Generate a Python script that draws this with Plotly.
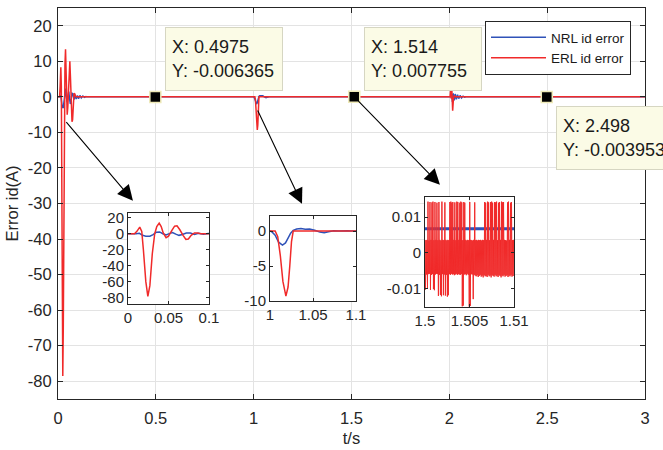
import numpy as np
import plotly.graph_objects as go

# ---------------- data ----------------
# ERL id error: start-up transient (t = 0 .. 0.1 s)
erl_t_start = [0, 0.008, 0.011, 0.0145, 0.017, 0.019, 0.022, 0.0245, 0.027, 0.030,
               0.033, 0.0355, 0.0385, 0.041, 0.0435, 0.047, 0.050, 0.054, 0.0575,
               0.0605, 0.064, 0.068, 0.0715, 0.0745, 0.078, 0.082, 0.086, 0.090, 0.095]
erl_v_start = [0, 0, 3, 8.3, 3, -20, -60, -78.5, -65, -25,
               0, 9, 13.4, 9, 1, -5, -3, 4, 9.5,
               10, 5, -2, -7, -6.5, -2, 1, 0.8, 0.1, 0]

# ERL id error: load step at t = 1 s
erl_t_step1 = [1.0, 1.006, 1.009, 1.012, 1.015, 1.0185, 1.021, 1.023, 1.025, 1.027]
erl_v_step1 = [0, 0, -0.8, -3.5, -7.2, -9.3, -8.0, -5.0, -1.5, 0]

# ERL id error: steady-state chattering, 1.5 .. 1.51 s (units of 1e-3 A),
# alternating upper / lower samples
erl_chatter_hi = [3.6, 3.5, 3.6, 14.3, 3.4, 14.2, 3.6, 14.1, 14.3, 3.5,
                  14.2, 3.6, 14.0, 3.5, 14.2, 3.6, 3.4, 14.3, 3.6, 3.5,
                  14.1, 3.6, 3.4, 3.6, 3.5, 14.2, 14.3, 14.0, 14.2, 3.6,
                  14.1, 3.5, 14.3, 14.2, 3.6, 14.0, 14.3, 14.1, 3.5, 14.2,
                  14.0, 3.6, 3.4, 3.6, 3.5, 14.2, 3.6, 3.5, 3.4, 3.6,
                  14.1, 3.5, 3.6, 3.4, 3.6, 3.5, 3.6, 3.4, 3.6, 3.5,
                  14.2, 14.0, 3.6, 14.3, 14.1, 3.5, 14.2, 14.3, 14.0, 3.6,
                  14.2, 14.1, 14.3, 3.5, 14.0, 14.2, 3.6, 14.3, 14.1, 14.2,
                  3.6, 3.5, 3.4, 14.1, 14.3, 3.6, 14.0, 14.2, 3.5, 3.6]
erl_chatter_lo = [-10.3, -6.1, -10.1, -6.0, -5.9, -10.4, -6.2, -6.0, -10.2, -10.5,
                  -6.1, -5.9, -6.0, -12.1, -6.2, -11.8, -12.2, -6.0, -11.9, -6.1,
                  -12.0, -6.2, -12.3, -11.9, -6.0, -6.2, -5.9, -6.1, -6.0, -6.3,
                  -6.1, -5.9, -6.2, -6.0, -6.1, -6.2, -6.0, -15.0, -14.8, -6.1,
                  -6.0, -6.3, -5.9, -6.2, -15.1, -14.9, -6.0, -6.1, -13.0, -6.2,
                  -6.4, -6.6, -6.3, -6.8, -6.5, -6.2, -6.7, -6.4, -6.9, -6.3,
                  -6.6, -6.5, -6.8, -6.2, -6.6, -6.4, -6.9, -6.3, -6.5, -6.7,
                  -6.2, -6.6, -6.4, -6.8, -6.3, -6.5, -6.9, -6.4, -6.6, -6.2,
                  -6.7, -6.5, -6.3, -6.8, -6.4, -6.6, -6.2, -6.7, -6.5, -6.4]
chatter_t_from, chatter_t_to = 1.5, 1.51

# ERL id error: load step at t = 2 s
erl_t_step2 = [2.0, 2.004, 2.007, 2.010, 2.013, 2.017, 2.021, 2.025, 2.030]
erl_v_step2 = [0, 0, 2.5, -0.5, 1.8, -3.9, -0.5, 0.4, 0]

# NRL id error
nrl_t_start = [0, 0.01, 0.014, 0.018, 0.022, 0.027, 0.031, 0.035, 0.039, 0.043,
               0.047, 0.051, 0.055, 0.059, 0.063, 0.067, 0.072, 0.077, 0.082,
               0.087, 0.093, 0.099, 0.105, 0.112, 0.119, 0.127, 0.135, 0.143, 0.15]
nrl_v_start = [0, 0, 0.5, -2, -3, -3, -1, 2, 2.3, 0,
               -1.5, 0.2, 1.5, -0.5, -2, -1, 1, 0.8, -0.8,
               0.5, -0.6, 0.4, -0.5, 0.4, -0.3, 0.25, -0.15, 0.1, 0]
nrl_t_step1 = [1.0, 1.002, 1.006, 1.010, 1.0145, 1.018, 1.021, 1.024, 1.027, 1.031,
               1.036, 1.041, 1.046, 1.052, 1.058, 1.063, 1.068, 1.074, 1.080, 1.090, 1.095]
nrl_v_step1 = [0, -0.1, -0.6, -1.6, -2.0, -1.7, -1.0, -0.3, 0.1, 0.3,
               0.35, 0.25, 0.3, 0.1, -0.15, -0.25, -0.1, 0.05, 0, 0.05, 0]
nrl_t_steady = [1.5, 1.51]
nrl_v_steady = [0.0067, 0.0067]
nrl_t_step2 = [2.0, 2.008, 2.012, 2.016, 2.020, 2.025, 2.030, 2.036, 2.042, 2.048,
               2.055, 2.062, 2.070, 2.078, 2.085]
nrl_v_step2 = [0, 0, 0.8, -1.4, 1.0, -1.0, 0.8, -0.7, 0.6, -0.5,
               0.4, -0.3, 0.2, -0.1, 0]

# data tips (t, id error)
tip_t = [0.4975, 1.514, 2.498]
tip_y = [-0.006365, 0.007755, -0.003953]

# axis ticks
main_xticks = [0, 0.5, 1, 1.5, 2, 2.5, 3]
main_xlabels = ["0", "0.5", "1", "1.5", "2", "2.5", "3"]
main_yticks = [-80, -70, -60, -50, -40, -30, -20, -10, 0, 10, 20]
main_ylabels = ["-80", "-70", "-60", "-50", "-40", "-30", "-20", "-10", "0", "10", "20"]
in1_xticks, in1_xlabels = [0, 0.05, 0.1], ["0", "0.05", "0.1"]
in1_yticks = [-80, -60, -40, -20, 0, 20]
in1_ylabels = ["-80", "-60", "-40", "-20", "0", "20"]
in2_xticks, in2_xlabels = [1, 1.05, 1.1], ["1", "1.05", "1.1"]
in2_yticks, in2_ylabels = [-10, -5, 0], ["-10", "-5", "0"]
in3_xticks, in3_xlabels = [1.5, 1.505, 1.51], ["1.5", "1.505", "1.51"]
in3_yticks, in3_ylabels = [-0.01, 0, 0.01], ["-0.01", "0", "0.01"]

# ---------------- assemble series ----------------
chatter_v = []
for hi, lo in zip(erl_chatter_hi, erl_chatter_lo):
    chatter_v += [hi * 1e-3, lo * 1e-3]
chatter_t = list(np.linspace(chatter_t_from, chatter_t_to, len(chatter_v)))

erl_t = (erl_t_start + [tip_t[0]] + erl_t_step1 + chatter_t + [tip_t[1]]
         + erl_t_step2 + [tip_t[2], 3.0])
erl_v = (erl_v_start + [tip_y[0]] + erl_v_step1 + chatter_v + [tip_y[1]]
         + erl_v_step2 + [tip_y[2], 0.0])
nrl_t = nrl_t_start + nrl_t_step1 + nrl_t_steady + nrl_t_step2 + [3.0]
nrl_v = nrl_v_start + nrl_v_step1 + nrl_v_steady + nrl_v_step2 + [0.0]

BLUE = "#2f52b8"
RED = "#f02a2a"
AX = "#262626"
GRID = "#e3e3e3"
FONT = "Liberation Sans, Arial, sans-serif"

fig = go.Figure()

# main axes
fig.add_trace(go.Scatter(x=nrl_t, y=nrl_v, mode="lines", name="NRL id error",
                         line=dict(color=BLUE, width=1.5), xaxis="x", yaxis="y"))
fig.add_trace(go.Scatter(x=erl_t, y=erl_v, mode="lines", name="ERL id error",
                         line=dict(color=RED, width=1.5), xaxis="x", yaxis="y"))
fig.add_trace(go.Scatter(x=tip_t, y=tip_y, mode="markers", showlegend=False,
                         marker=dict(symbol="square", size=11, color="black",
                                     line=dict(color="#efeab8", width=1.5)),
                         xaxis="x", yaxis="y"))

# zoomed views
for k, w_blue in ((2, 1.5), (3, 1.5), (4, 3)):
    fig.add_trace(go.Scatter(x=nrl_t, y=nrl_v, mode="lines", showlegend=False,
                             line=dict(color=BLUE, width=w_blue, simplify=False),
                             xaxis=f"x{k}", yaxis=f"y{k}"))
    fig.add_trace(go.Scatter(x=erl_t, y=erl_v, mode="lines", showlegend=False,
                             line=dict(color=RED, width=1.5 if k < 4 else 1, simplify=False),
                             xaxis=f"x{k}", yaxis=f"y{k}"))

L, R, T, B = 58, 18, 8, 51
W, H = 663, 450
PW, PH = W - L - R, H - T - B


def dom_x(p0, p1):
    return [(p0 - L) / PW, (p1 - L) / PW]


def dom_y(top, bottom):
    return [(H - B - bottom) / PH, (H - B - top) / PH]


def frame_axis(**kw):
    base = dict(showline=True, linecolor=AX, linewidth=1, mirror="ticks",
                ticks="inside", tickcolor=AX, zeroline=False, automargin=False,
                tickfont=dict(family=FONT, size=15, color=AX))
    base.update(kw)
    return base


main_font = dict(family=FONT, size=16.5, color=AX)

fig.update_layout(
    template="none",
    width=W, height=H,
    margin=dict(l=L, r=R, t=T, b=B, pad=0, autoexpand=False),
    paper_bgcolor="white", plot_bgcolor="white",
    font=dict(family=FONT, color=AX),
    showlegend=True,
    legend=dict(x=(485 - L) / PW, y=(H - B - 21) / PH, xanchor="left", yanchor="top",
                bgcolor="white", bordercolor=AX, borderwidth=1,
                font=dict(family=FONT, size=13.5, color="#1a1a1a"),
                itemwidth=55, tracegroupgap=0),
    xaxis=frame_axis(range=[0, 3], tickvals=main_xticks, ticktext=main_xlabels,
                     showgrid=True, gridcolor=GRID, ticklen=5, ticklabelstandoff=4,
                     tickfont=main_font,
                     title=dict(text="t/s", font=main_font, standoff=6)),
    yaxis=frame_axis(range=[-85, 25], tickvals=main_yticks, ticktext=main_ylabels,
                     showgrid=True, gridcolor=GRID, ticklen=5, ticklabelstandoff=2,
                     tickfont=main_font,
                     title=dict(text="Error id(A)", font=main_font, standoff=5)),
    xaxis2=frame_axis(domain=dom_x(128, 209), anchor="y2", range=[0, 0.1],
                      tickvals=in1_xticks, ticktext=in1_xlabels, showgrid=True,
                      gridcolor=GRID, ticklen=3),
    yaxis2=frame_axis(domain=dom_y(213, 304), anchor="x2", range=[-88, 26],
                      tickvals=in1_yticks, ticktext=in1_ylabels, showgrid=False, ticklen=3),
    xaxis3=frame_axis(domain=dom_x(270, 356), anchor="y3", range=[1, 1.1],
                      tickvals=in2_xticks, ticktext=in2_xlabels, showgrid=True,
                      gridcolor=GRID, ticklen=3),
    yaxis3=frame_axis(domain=dom_y(216, 301), anchor="x3", range=[-10, 2.15],
                      tickvals=in2_yticks, ticktext=in2_ylabels, showgrid=False, ticklen=3),
    xaxis4=frame_axis(domain=dom_x(425, 514), anchor="y4", range=[1.5, 1.51],
                      tickvals=in3_xticks, ticktext=in3_xlabels, showgrid=True,
                      gridcolor=GRID, ticklen=3),
    yaxis4=frame_axis(domain=dom_y(197, 307), anchor="x4", range=[-0.0152, 0.0156],
                      tickvals=in3_yticks, ticktext=in3_ylabels, showgrid=False, ticklen=3),
)

# data-tip boxes
tip_place = [("left", "bottom", 10, 6), ("left", "bottom", 10, 6), ("left", "top", 9, -9)]
for t, y, (xa, ya, dx, dy) in zip(tip_t, tip_y, tip_place):
    fig.add_annotation(x=t, y=y, xref="x", yref="y", showarrow=False,
                       text=f"X: {t:g}<br>Y: {y:g}", align="left", valign="middle",
                       xanchor=xa, yanchor=ya, xshift=dx, yshift=dy,
                       width=104, height=50, borderpad=6, borderwidth=1,
                       bgcolor="#fbfbe6", bordercolor="#d6d6c2",
                       font=dict(family=FONT, size=18, color="#1a1a1a"))

# arrows pointing from each event to its zoomed view (tail -> head, main-axis units)
arrow_tail = [(0.036, -6.7), (1.017, -3.4), (1.528, -0.8)]
arrow_head = [(0.383, -29.2), (1.247, -30.1), (1.952, -24.7)]
for (tx, ty), (hx, hy) in zip(arrow_tail, arrow_head):
    fig.add_annotation(x=hx, y=hy, ax=tx, ay=ty, xref="x", yref="y", axref="x", ayref="y",
                       text="", showarrow=True, arrowhead=2, arrowsize=2.8,
                       arrowwidth=1.1, arrowcolor="black", standoff=0, startstandoff=0)

fig.write_html("out.html")
